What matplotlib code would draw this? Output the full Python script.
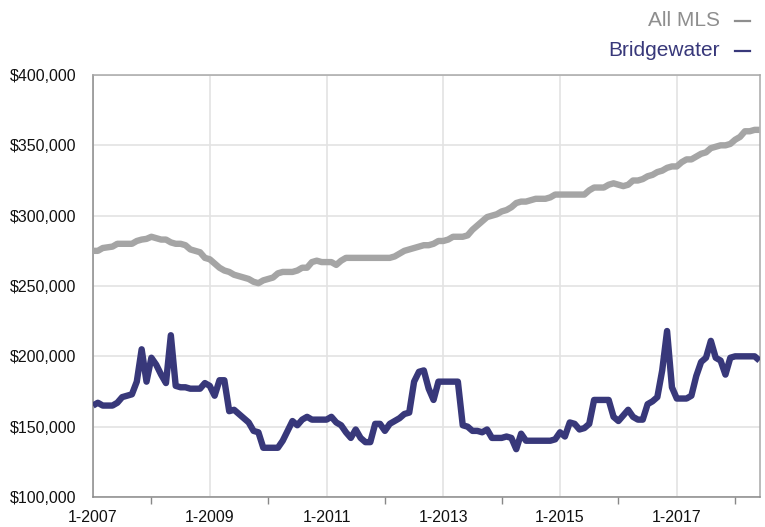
import numpy as np
import matplotlib
matplotlib.use("Agg")
import matplotlib.pyplot as plt
from matplotlib.ticker import FixedLocator, FuncFormatter
from matplotlib.lines import Line2D

plt.rcParams['font.family'] = ['Liberation Sans', 'DejaVu Sans']

# Monthly median prices, Jan 2007 - Jun 2018 (in $)
all_mls = [275, 275, 277, 277.5, 278, 280, 280, 280, 280, 282, 283, 283.5, 285,
           284, 283, 283, 281, 280, 280, 279, 276, 275, 274, 270, 269,
           266, 263, 261, 260, 258, 257, 256, 255, 253, 252, 254, 255,
           256, 259, 260, 260, 260, 261, 263, 263, 267, 268, 267, 267,
           267, 265, 268,
           270, 270, 270, 270, 270, 270, 270, 270, 270, 270,
           271, 273, 275, 276, 277, 278, 279, 279, 280, 282, 282, 283,
           285, 285, 285, 286, 290, 293, 296, 299, 300, 301, 303, 304,
           306, 309, 310, 310, 311, 312, 312, 312, 313, 315, 315, 315,
           315, 315, 315, 315,
           318, 320, 320, 320, 322, 323, 322, 321, 322, 325, 325, 326,
           328, 329, 331, 332, 334, 335, 335, 338, 340, 340, 342, 344,
           345, 348, 349, 350, 350, 351, 354, 356, 360, 360, 361, 361]
all_mls = [v * 1000 for v in all_mls]

bridgewater = [165, 167, 165, 165, 165, 167, 171, 172, 173, 182, 205, 182, 199,
               194, 187, 181, 215, 179, 178, 178, 177, 177, 177, 181, 179,
               172, 183, 183, 161, 162, 159, 156, 153, 147, 146, 135, 135,
               135, 135, 140, 147, 154, 151, 155, 157, 155, 155, 155, 155,
               157, 153, 151, 146, 142, 148, 142, 139, 139, 152, 152, 147,
               152, 154, 156, 159, 160, 182, 189, 190, 177, 169, 182, 182,
               182, 182, 182, 151, 150, 147, 147, 146, 148, 142, 142, 142,
               143, 142, 134, 145, 140, 140, 140, 140, 140, 140, 141, 146,
               143, 153, 152, 148, 149, 152, 169, 169, 169, 169, 157, 154,
               158, 162, 157, 155, 155, 166, 168, 171, 190, 218, 178, 170,
               170, 170, 172, 186, 196, 199, 211, 199, 197, 187, 199, 200,
               200, 200, 200, 200, 197]
bridgewater = [v * 1000 for v in bridgewater]

x_tick_labels = ['1-2007', '1-2009', '1-2011', '1-2013', '1-2015', '1-2017']
y_ticks = [100000, 150000, 200000, 250000, 300000, 350000, 400000]
series_names = ['All MLS', 'Bridgewater']

GRAY = '#a5a5a5'
NAVY = '#38387a'

fig = plt.figure(figsize=(7.65, 5.27), dpi=100)
ax = fig.add_axes([93 / 765, 30 / 527, 666.5 / 765, 422 / 527])

months = np.arange(len(all_mls))
ax.plot(months, all_mls, color=GRAY, lw=4.6, solid_joinstyle='round',
        solid_capstyle='butt', zorder=3)
ax.plot(months, bridgewater, color=NAVY, lw=4.6, solid_joinstyle='round',
        solid_capstyle='butt', zorder=4)

ax.set_xlim(0, len(all_mls) - 1)
ax.set_ylim(y_ticks[0], y_ticks[-1])

major_x = [24 * i for i in range(len(x_tick_labels))]
ax.xaxis.set_major_locator(FixedLocator(major_x))
ax.set_xticklabels(x_tick_labels)
ax.xaxis.set_minor_locator(FixedLocator([12 + 24 * i for i in range(len(x_tick_labels))]))
ax.tick_params(axis='x', which='major', length=0, pad=9, labelsize=11.5, labelcolor='#111111')
ax.tick_params(axis='x', which='minor', length=5, width=1, color='#888888', direction='out')

ax.yaxis.set_major_locator(FixedLocator(y_ticks))
ax.yaxis.set_major_formatter(FuncFormatter(lambda v, p: '${:,.0f}'.format(v)))
ax.tick_params(axis='y', length=0, pad=12, labelsize=11.5, labelcolor='#111111')

ax.grid(True, which='major', color='#e3e3e3', lw=1.2, zorder=0)
ax.set_axisbelow(True)

for side in ['left', 'bottom']:
    ax.spines[side].set_color('#8a8a8a')
    ax.spines[side].set_linewidth(1.1)
for side in ['top', 'right']:
    ax.spines[side].set_color('#a8a8a8')
    ax.spines[side].set_linewidth(1.1)

# Legend (top right, text followed by a short dash)
legend_colors = ['#8e8e8e', NAVY]
legend_y = [1 - 21 / 527, 1 - 51 / 527]
dash_colors = ['#8e8e8e', NAVY]
for name, c, yy, dc in zip(series_names, legend_colors, legend_y, dash_colors):
    fig.text(720 / 765, yy, name, ha='right', va='center', fontsize=15, color=c)
    fig.add_artist(Line2D([735 / 765, 750 / 765], [yy, yy], color=dc, lw=1.6,
                          transform=fig.transFigure))

fig.savefig('out.png', dpi=100)
